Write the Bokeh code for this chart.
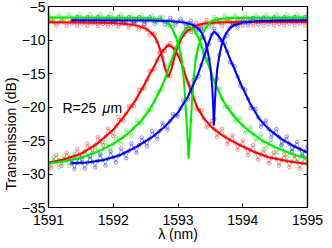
from bokeh.plotting import figure
from bokeh.models import LinearAxis, Label, FixedTicker, Range1d, Title
from bokeh.embed import file_html
from bokeh.resources import INLINE

# ---------------- data ----------------
x_ticks = [1591, 1592, 1593, 1594, 1595]
y_ticks = [-35, -30, -25, -20, -15, -10, -5]

# measurement wavelength grid (nm)
lam_meas = [
    1591.00, 1591.04, 1591.08, 1591.12, 1591.16, 1591.20, 1591.24, 1591.28, 1591.32, 1591.36,
    1591.40, 1591.44, 1591.48, 1591.52, 1591.56, 1591.60, 1591.64, 1591.68, 1591.72, 1591.76,
    1591.80, 1591.84, 1591.88, 1591.92, 1591.96, 1592.00, 1592.04, 1592.08, 1592.12, 1592.16,
    1592.20, 1592.24, 1592.28, 1592.32, 1592.36, 1592.40, 1592.44, 1592.48, 1592.52, 1592.56,
    1592.60, 1592.64, 1592.68, 1592.72, 1592.76, 1592.80, 1592.84, 1592.88, 1592.92, 1592.96,
    1593.00, 1593.04, 1593.08, 1593.12, 1593.16, 1593.20, 1593.24, 1593.28, 1593.32, 1593.36,
    1593.40, 1593.44, 1593.48, 1593.52, 1593.56, 1593.60, 1593.64, 1593.68, 1593.72, 1593.76,
    1593.80, 1593.84, 1593.88, 1593.92, 1593.96, 1594.00, 1594.04, 1594.08, 1594.12, 1594.16,
    1594.20, 1594.24, 1594.28, 1594.32, 1594.36, 1594.40, 1594.44, 1594.48, 1594.52, 1594.56,
    1594.60, 1594.64, 1594.68, 1594.72, 1594.76, 1594.80, 1594.84, 1594.88, 1594.92, 1594.96,
    1595.00,
]
lam_meas_blue = lam_meas[9:]

# measured, red through port
red_thru_meas = [
    -7.35, -6.85, -7.35, -7.85, -7.35, -6.85, -7.36, -7.86, -7.36, -6.86,
    -7.37, -7.87, -7.38, -6.88, -7.39, -7.89, -7.40, -6.90, -7.41, -7.92,
    -7.42, -6.93, -7.44, -7.95, -7.47, -6.98, -7.50, -8.03, -7.56, -7.09,
    -7.62, -8.17, -7.72, -7.28, -7.85, -8.43, -8.07, -7.72, -8.45, -9.25,
    -9.05, -9.05, -10.3, -11.8, -12.65, -13.8, -15.4, -15.4, -13.5, -11.5,
    -10.9, -10.5, -9.35, -8.4, -8.55, -8.8, -8.1, -7.4, -7.75, -8.15,
    -7.55, -7.0, -7.46, -7.93, -7.40, -6.89, -7.38, -7.87, -7.37, -6.86,
    -7.35, -7.85, -7.35, -6.85, -7.35, -7.85, -7.34, -6.84, -7.34, -7.84,
    -7.33, -6.83, -7.33, -7.83, -7.32, -6.82, -7.32, -7.82, -7.31, -6.81,
    -7.31, -7.81, -7.30, -6.80, -7.30, -7.80, -7.30, -6.80, -7.30, -7.80,
    -7.30,
]
# measured, red drop port
red_drop_meas = [
    -28.3, -29.12, -28.14, -27.16, -27.98, -28.8, -27.82, -26.8, -27.58, -28.35,
    -27.32, -26.29, -27.06, -27.8, -26.65, -25.5, -26.15, -26.8, -25.65, -24.5,
    -25.1, -25.7, -24.45, -23.2, -23.75, -24.3, -22.9, -21.5, -21.95, -22.1,
    -21.0, -19.85, -19.9, -19.9, -18.75, -17.45, -17.35, -17.25, -15.95, -14.6,
    -14.5, -14.35, -13.0, -11.9, -11.7, -11.6, -10.8, -10.45, -11.1, -12.0,
    -12.25, -12.6, -14.2, -16.0, -16.5, -17.0, -18.6, -20.2, -20.45, -20.5,
    -21.7, -23.05, -22.6, -22.1, -23.3, -24.5, -23.9, -23.25, -24.4, -25.55,
    -24.9, -24.2, -25.3, -26.4, -25.7, -25.0, -26.1, -27.15, -26.45, -25.7,
    -26.8, -27.85, -27.1, -26.35, -27.35, -28.4, -27.6, -26.8, -27.75, -28.75,
    -27.9, -27.1, -28.05, -29.0, -28.15, -27.3, -28.25, -29.2, -28.35, -27.5,
    -28.5,
]
# measured, green through port
green_thru_meas = [
    -6.15, -6.65, -7.15, -6.65, -6.15, -6.65, -7.15, -6.65, -6.15, -6.65,
    -7.15, -6.65, -6.15, -6.65, -7.15, -6.65, -6.15, -6.65, -7.15, -6.65,
    -6.15, -6.66, -7.16, -6.66, -6.17, -6.67, -7.17, -6.67, -6.18, -6.68,
    -7.18, -6.70, -6.21, -6.71, -7.22, -6.73, -6.24, -6.74, -7.25, -6.76,
    -6.28, -6.81, -7.35, -6.91, -6.52, -7.15, -7.95, -7.8, -8.0, -9.4,
    -11.0, -12.1, -14.4, -20.3, -27.0, -22.0, -15.5, -12.5, -11.3, -9.7,
    -8.25, -7.95, -8.05, -7.2, -6.55, -6.93, -7.37, -6.82, -6.28, -6.75,
    -7.24, -6.74, -6.23, -6.72, -7.22, -6.71, -6.20, -6.70, -7.20, -6.69,
    -6.18, -6.67, -7.17, -6.67, -6.17, -6.66, -7.16, -6.66, -6.16, -6.66,
    -7.16, -6.65, -6.15, -6.65, -7.15, -6.65, -6.15, -6.65, -7.15, -6.65,
    -6.15,
]
# measured, green drop port
green_drop_meas = [
    -29.2, -28.35, -27.5, -28.25, -29.0, -28.15, -27.3, -28.05, -28.8, -27.9,
    -27.0, -27.7, -28.45, -27.55, -26.6, -27.25, -27.9, -26.95, -26.0, -26.65,
    -27.25, -26.25, -25.3, -25.9, -26.5, -25.5, -24.45, -25.0, -25.5, -24.45,
    -23.4, -23.85, -24.3, -23.15, -22.0, -22.4, -22.55, -21.45, -20.35, -20.45,
    -20.35, -19.05, -17.75, -17.55, -17.3, -15.8, -14.1, -13.55, -13.05, -11.4,
    -9.95, -9.55, -9.25, -8.3, -7.57, -8.1, -8.85, -9.0, -9.35, -10.8,
    -12.35, -12.95, -13.45, -15.1, -16.7, -17.1, -17.3, -18.7, -20.0, -20.0,
    -20.0, -21.1, -22.15, -22.0, -21.6, -22.75, -23.9, -23.45, -22.95, -24.05,
    -25.1, -24.6, -24.05, -25.1, -26.1, -25.5, -24.9, -25.9, -26.9, -26.25,
    -25.6, -26.55, -27.5, -26.85, -26.2, -27.15, -28.1, -27.4, -26.7, -27.6,
    -28.5,
]
# measured, blue through port (from 1591.36 nm)
blue_thru_meas = [
    -7.55,
    -7.05, -6.55, -7.05, -7.55, -7.06, -6.56, -7.06, -7.56, -7.06, -6.56,
    -7.06, -7.57, -7.07, -6.57, -7.07, -7.57, -7.07, -6.57, -7.08, -7.58,
    -7.08, -6.58, -7.08, -7.59, -7.09, -6.59, -7.09, -7.6, -7.1, -6.6,
    -7.1, -7.61, -7.12, -6.64, -7.15, -7.67, -7.19, -6.7, -7.22, -7.75,
    -7.28, -6.82, -7.37, -7.93, -7.52, -7.13, -7.78, -8.52, -8.4, -8.35,
    -9.65, -11.3, -12.8, -15.7, -21.8, -15.8, -12.25, -10.1, -9.6, -9.35,
    -8.25, -7.45, -7.73, -8.12, -7.52, -6.92, -7.36, -7.81, -7.27, -6.73,
    -7.2, -7.68, -7.17, -6.66, -7.15, -7.64, -7.13, -6.62, -7.11, -7.6,
    -7.1, -6.59, -7.08, -7.57, -7.07, -6.56, -7.06, -7.55, -7.05, -6.55,
    -7.05,
]
# measured, blue drop port (from 1591.36 nm)
blue_drop_meas = [
    -28.4,
    -29.28, -28.36, -27.44, -28.32, -29.21, -28.3, -27.35, -28.18, -29.02, -28.05,
    -27.08, -27.9, -28.72, -27.72, -26.7, -27.48, -28.26, -27.25, -26.2, -26.92,
    -27.64, -26.55, -25.45, -26.15, -26.85, -25.7, -24.55, -25.2, -25.85, -24.75,
    -23.6, -24.2, -24.8, -23.55, -22.35, -22.9, -23.4, -22.1, -21.05, -21.25,
    -21.4, -20.2, -19.0, -18.95, -18.9, -17.4, -16.0, -15.7, -15.4, -13.75,
    -12.0, -11.4, -10.65, -9.2, -8.3, -9.05, -10.0, -10.1, -10.4, -11.75,
    -13.3, -13.6, -13.95, -15.45, -16.9, -17.2, -17.4, -18.8, -20.15, -20.25,
    -20.3, -21.55, -22.95, -22.5, -22.0, -23.3, -24.5, -23.9, -23.3, -24.5,
    -25.7, -25.05, -24.4, -25.5, -26.6, -25.9, -25.2, -26.3, -27.35, -26.6,
    -25.9,
]

# fitted curves
lam_red_thru = [1591.0, 1591.5, 1592.0, 1592.2, 1592.3, 1592.4, 1592.5, 1592.55, 1592.6, 1592.65,
                1592.7, 1592.75, 1592.8, 1592.85, 1592.9, 1592.95, 1593.0, 1593.05, 1593.1, 1593.15,
                1593.2, 1593.3, 1593.4, 1593.5, 1593.7, 1594.2, 1595.0]
red_thru_fit = [-7.35, -7.38, -7.48, -7.62, -7.74, -7.93, -8.3, -8.6, -9.05, -9.7,
                -10.7, -12.25, -14.3, -15.5, -14.3, -12.4, -10.9, -9.8, -9.1, -8.6,
                -8.3, -7.8, -7.55, -7.45, -7.36, -7.33, -7.3]

lam_red_drop = [1591.0, 1591.25, 1591.5, 1591.75, 1592.0, 1592.2, 1592.35, 1592.5, 1592.6, 1592.7,
                1592.78, 1592.85, 1592.92, 1593.0, 1593.07, 1593.12, 1593.2, 1593.3, 1593.4, 1593.52,
                1593.65, 1593.8, 1594.0, 1594.2, 1594.4, 1594.7, 1595.0]
red_drop_fit = [-28.3, -27.8, -27.0, -25.5, -23.4, -21.0, -18.9, -16.3, -14.5, -12.6,
                -11.4, -10.75, -11.1, -12.25, -13.9, -15.4, -17.6, -20.1, -21.7, -23.0,
                -24.0, -24.9, -25.9, -26.8, -27.5, -28.1, -28.5]

lam_green_thru = [1591.0, 1592.165, 1592.565, 1592.715, 1592.815, 1592.875, 1592.925, 1592.975, 1593.015,
                  1593.055, 1593.08, 1593.10, 1593.12, 1593.14, 1593.153, 1593.165, 1593.177, 1593.19,
                  1593.21, 1593.23, 1593.25, 1593.275, 1593.315, 1593.355, 1593.405, 1593.455, 1593.515,
                  1593.615, 1593.765, 1594.165, 1595.0]
green_thru_fit = [-6.65, -6.68, -6.75, -6.9, -7.2, -7.75, -8.6, -9.75, -10.9,
                  -12.75, -14.9, -17.25, -20.3, -23.5, -25.5, -27.7, -25.5, -23.5,
                  -20.3, -17.25, -14.9, -12.75, -10.9, -9.75, -8.6, -7.75, -7.2,
                  -6.9, -6.75, -6.68, -6.65]

lam_green_drop = [1591.0, 1591.25, 1591.5, 1591.75, 1592.0, 1592.2, 1592.4, 1592.55, 1592.7, 1592.8,
                  1592.9, 1593.0, 1593.08, 1593.17, 1593.25, 1593.32, 1593.42, 1593.5, 1593.6, 1593.7,
                  1593.8, 1593.95, 1594.1, 1594.3, 1594.5, 1594.75, 1595.0]
green_drop_fit = [-28.4, -28.1, -27.6, -26.7, -25.5, -24.2, -22.4, -20.6, -18.0, -15.8,
                  -13.0, -10.4, -8.8, -8.0, -8.5, -9.8, -12.4, -14.6, -17.1, -19.1,
                  -20.6, -22.3, -23.6, -25.0, -26.0, -27.0, -27.7]

lam_blue_thru = [1591.35, 1592.3, 1592.555, 1592.905, 1593.105, 1593.235, 1593.305, 1593.37, 1593.425,
                 1593.47, 1593.505, 1593.53, 1593.543, 1593.555, 1593.567, 1593.58, 1593.605, 1593.64,
                 1593.685, 1593.74, 1593.805, 1593.875, 1594.005, 1594.205, 1594.555, 1595.0]
blue_thru_fit = [-7.05, -7.08, -7.1, -7.2, -7.4, -7.75, -8.2, -9.0, -10.3,
                 -12.25, -14.3, -17.25, -20.0, -22.75, -20.0, -17.25, -14.3, -12.25,
                 -10.3, -9.0, -8.2, -7.75, -7.4, -7.2, -7.1, -7.05]

lam_blue_drop = [1591.35, 1591.6, 1591.85, 1592.1, 1592.35, 1592.6, 1592.8, 1593.0, 1593.15, 1593.3,
                 1593.4, 1593.47, 1593.52, 1593.56, 1593.62, 1593.7, 1593.8, 1593.9, 1594.0, 1594.1,
                 1594.25, 1594.4, 1594.6, 1594.8, 1595.0]
blue_drop_fit = [-28.4, -28.3, -27.9, -27.2, -26.0, -24.5, -22.9, -20.8, -18.5, -15.3,
                 -12.6, -10.5, -9.2, -8.75, -9.3, -10.4, -12.7, -15.0, -17.2, -19.2,
                 -21.7, -23.3, -24.8, -25.9, -26.8]

annotation = "R=25"
annotation_unit = ("μ", "m")
ann_x, ann_y = 1591.215, -20.1

y_label = "Transmission (dB)"
x_label = "λ (nm)"

RED, GREEN, BLUE = "#ff0000", "#00e800", "#0000ff"
FONT = "Liberation Sans"

# ---------------- figure ----------------
p = figure(width=324, height=248,
           x_range=Range1d(1591, 1595), y_range=Range1d(-35, -5),
           output_backend="svg", toolbar_location=None,
           min_border_left=41, min_border_right=17, min_border_top=6, min_border_bottom=41,
           x_axis_label=x_label)
p.grid.visible = False
p.outline_line_color = "black"
p.outline_line_width = 1.2
p.background_fill_color = "white"
p.border_fill_color = "white"


def style_axis(ax, ticks, show_labels):
    ax.ticker = FixedTicker(ticks=ticks)
    ax.major_tick_in = 4
    ax.major_tick_out = 0
    ax.minor_tick_in = 0
    ax.minor_tick_out = 0
    ax.axis_line_color = "black"
    ax.axis_line_width = 1.2
    ax.major_tick_line_color = "black"
    ax.major_tick_line_width = 1
    ax.major_label_text_font = FONT
    ax.major_label_text_color = "black"
    ax.axis_label_text_font = FONT
    ax.axis_label_text_font_size = "14px"
    ax.axis_label_text_font_style = "normal"
    ax.axis_label_text_color = "black"
    if show_labels:
        ax.major_label_text_font_size = "14px"
    else:
        ax.major_label_text_font_size = "0px"
        ax.major_label_overrides = {t: "" for t in ticks}
        ax.major_label_standoff = 0


style_axis(p.xaxis[0], x_ticks, True)
style_axis(p.yaxis[0], y_ticks, True)
p.xaxis[0].major_label_standoff = 7
p.xaxis[0].axis_label_standoff = -2
p.yaxis[0].major_label_standoff = 3

top_ax = LinearAxis()
style_axis(top_ax, x_ticks, False)
p.add_layout(top_ax, "above")
right_ax = LinearAxis()
style_axis(right_ax, y_ticks, False)
p.add_layout(right_ax, "right")

# y-axis title as a side title, anchored near the bottom like the reference
ytitle = Title(text=y_label, align="left", offset=17, standoff=0,
               text_font=FONT, text_font_size="14px", text_font_style="normal",
               text_color="black")
p.add_layout(ytitle, "left")

# measured data: thin lines with small open circles
meas = [
    (lam_meas, red_thru_meas, RED), (lam_meas, red_drop_meas, RED),
    (lam_meas, green_thru_meas, GREEN), (lam_meas, green_drop_meas, GREEN),
    (lam_meas_blue, blue_thru_meas, BLUE), (lam_meas_blue, blue_drop_meas, BLUE),
]
for xs, ys, c in meas:
    p.line(xs, ys, line_color=c, line_width=0.7, line_alpha=0.55)
    p.scatter(xs, ys, marker="circle", size=3.5, fill_color=None,
              line_color=c, line_width=0.7, line_alpha=0.6)

# fitted curves
fits = [
    (lam_red_thru, red_thru_fit, RED), (lam_red_drop, red_drop_fit, RED),
    (lam_green_thru, green_thru_fit, GREEN), (lam_green_drop, green_drop_fit, GREEN),
    (lam_blue_thru, blue_thru_fit, BLUE), (lam_blue_drop, blue_drop_fit, BLUE),
]
for xs, ys, c in fits:
    p.line(xs, ys, line_color=c, line_width=2)

# annotation R=25 μm
p.add_layout(Label(x=ann_x, y=ann_y, text=annotation, text_font=FONT, text_font_size="14px",
                   text_baseline="middle", text_color="black"))
p.add_layout(Label(x=ann_x, y=ann_y, x_offset=40, text=annotation_unit[0], text_font=FONT,
                   text_font_size="14px", text_font_style="italic",
                   text_baseline="middle", text_color="black"))
p.add_layout(Label(x=ann_x, y=ann_y, x_offset=48, text=annotation_unit[1], text_font=FONT,
                   text_font_size="14px", text_baseline="middle", text_color="black"))

open("out.html", "w").write(file_html(p, INLINE))
